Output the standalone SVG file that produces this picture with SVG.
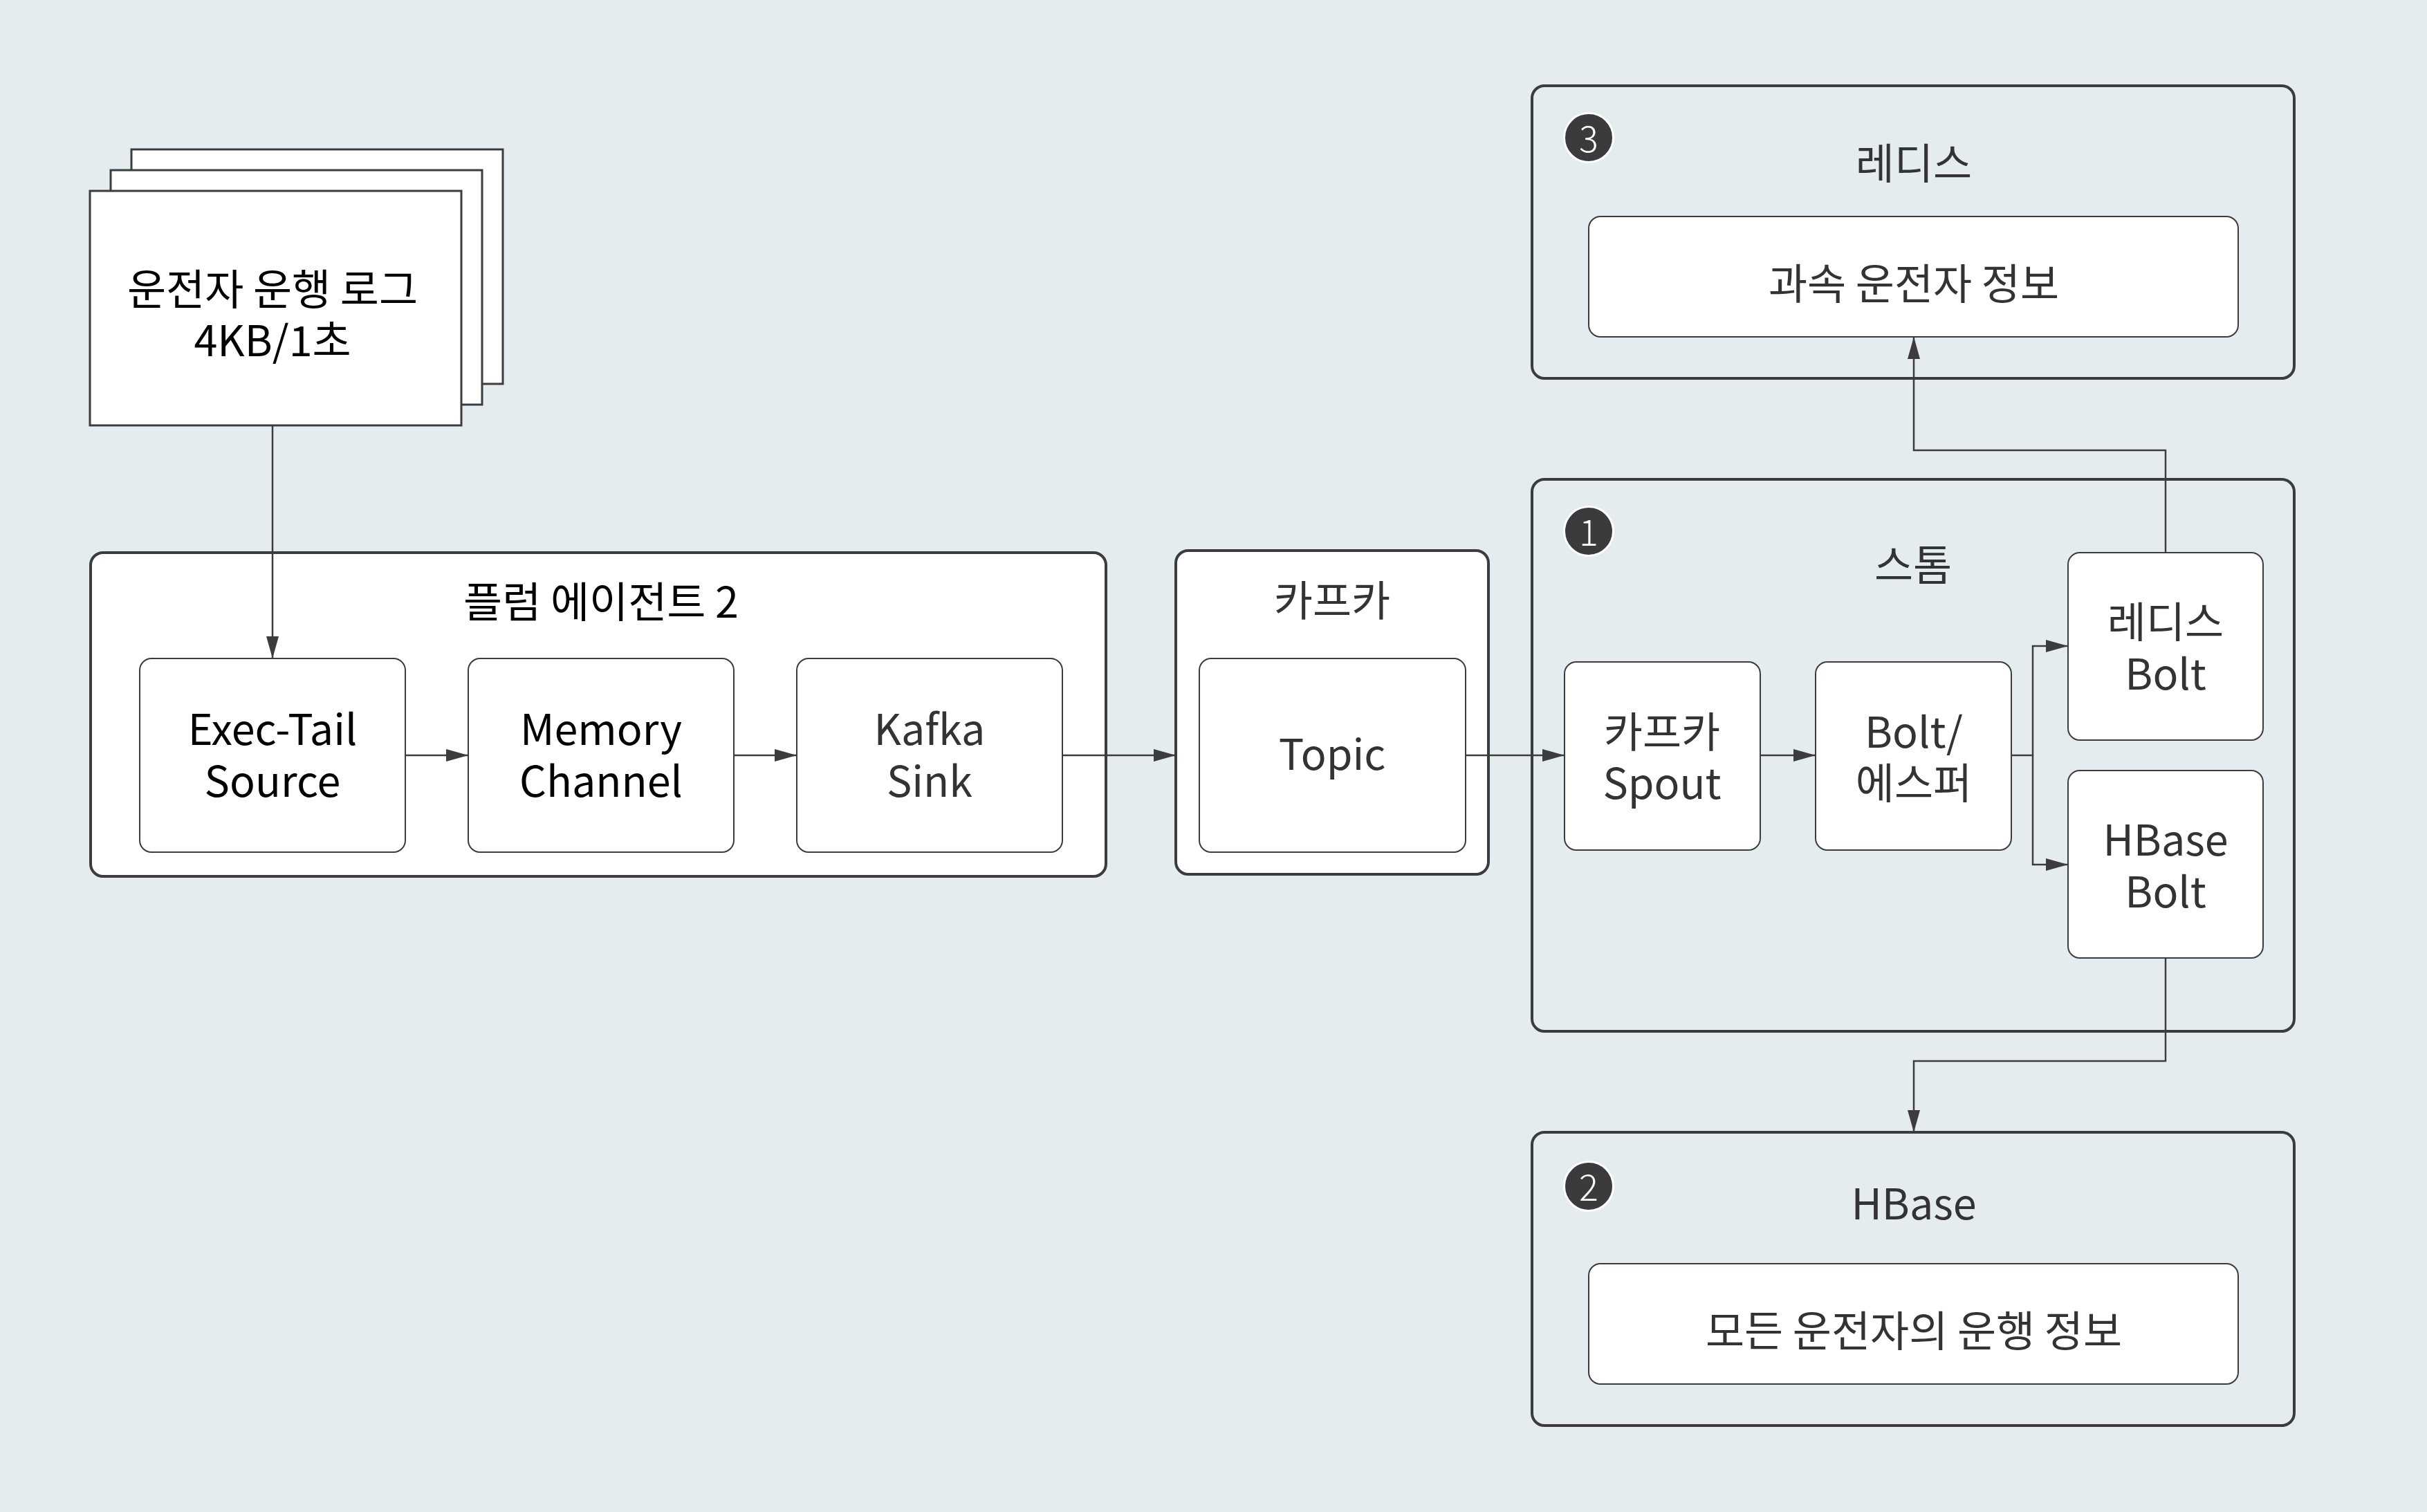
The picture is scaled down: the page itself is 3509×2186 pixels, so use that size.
<svg xmlns="http://www.w3.org/2000/svg" width="3509" height="2186" viewBox="0 0 3509 2186">
<defs>
<style>
text{font-family:"Noto Sans CJK KR","Noto Sans",sans-serif;font-size:61px;font-weight:400;text-anchor:middle;dominant-baseline:central}
.k{fill:#000}
.g{fill:#333335}
.sheet{fill:#fff;stroke:#3c3c3e;stroke-width:3}
.cw{fill:#fff;stroke:#3c3c3e;stroke-width:4}
.cb{fill:#e4ecf0;stroke:#3c3c3e;stroke-width:4}
.box{fill:#fff;stroke:#3c3c3e;stroke-width:2}
.badge{fill:#3b3b3d;stroke:#fff;stroke-width:3}
.num{fill:#fff;font-size:52px;font-weight:300}
.edge{fill:none;stroke:#3c3c3e;stroke-width:2.5}
</style>
<marker id="ah" markerUnits="userSpaceOnUse" markerWidth="32" markerHeight="18" refX="32" refY="9" orient="auto">
<path d="M0,0 L32,9 L0,18 z" fill="#3c3c3e"/>
</marker>
</defs>
<rect x="0" y="0" width="3509" height="2186" fill="#e4ecf0"/>

<g id="log-stack">
<rect class="sheet" x="190" y="216" width="537" height="339"/>
<rect class="sheet" x="160" y="246" width="537" height="339"/>
<rect class="sheet" x="130" y="276" width="537" height="339"/>
<text class="k"><tspan x="394" y="414">운전자 운행 로그</tspan><tspan x="394" y="488">4KB/1초</tspan></text>
</g>

<g id="flume-agent">
<rect class="cw" x="131" y="799" width="1468" height="468" rx="18"/>
<text class="k" x="869" y="866">플럼 에이전트 2</text>
</g>
<g id="exec-tail-source">
<rect class="box" x="202" y="952" width="384" height="280" rx="17"/>
<text class="k"><tspan x="394" y="1050">Exec-Tail</tspan><tspan x="394" y="1125">Source</tspan></text>
</g>
<g id="memory-channel">
<rect class="box" x="677" y="952" width="384" height="280" rx="17"/>
<text class="k"><tspan x="869" y="1050">Memory</tspan><tspan x="869" y="1125">Channel</tspan></text>
</g>
<g id="kafka-sink">
<rect class="box" x="1152" y="952" width="384" height="280" rx="17"/>
<text class="g"><tspan x="1344" y="1050">Kafka</tspan><tspan x="1344" y="1125">Sink</tspan></text>
</g>

<g id="kafka">
<rect class="cw" x="1700" y="796" width="452" height="468" rx="18"/>
<text class="g" x="1926" y="864">카프카</text>
</g>
<g id="topic">
<rect class="box" x="1734" y="952" width="385" height="280" rx="17"/>
<text class="g" x="1926" y="1086">Topic</text>
</g>

<g id="storm">
<rect class="cb" x="2215" y="693" width="1102" height="798" rx="18"/>
<circle class="badge" cx="2297" cy="768" r="35.5"/>
<text class="num" x="2297" y="766">1</text>
<text class="g" x="2766" y="813">스톰</text>
</g>
<g id="kafka-spout">
<rect class="box" x="2262" y="957" width="283" height="272" rx="17"/>
<text class="g"><tspan x="2403" y="1054">카프카</tspan><tspan x="2403" y="1128">Spout</tspan></text>
</g>
<g id="bolt-esper">
<rect class="box" x="2625" y="957" width="283" height="272" rx="17"/>
<text class="g"><tspan x="2767" y="1054">Bolt/</tspan><tspan x="2767" y="1128">에스퍼</tspan></text>
</g>
<g id="redis-bolt">
<rect class="box" x="2990" y="799" width="282" height="271" rx="17"/>
<text class="g"><tspan x="3131" y="895">레디스</tspan><tspan x="3131" y="970">Bolt</tspan></text>
</g>
<g id="hbase-bolt">
<rect class="box" x="2990" y="1114" width="282" height="271" rx="17"/>
<text class="g"><tspan x="3131" y="1210">HBase</tspan><tspan x="3131" y="1285">Bolt</tspan></text>
</g>

<g id="redis">
<rect class="cb" x="2215" y="124" width="1102" height="423" rx="18"/>
<circle class="badge" cx="2297" cy="199" r="35.5"/>
<text class="num" x="2297" y="197">3</text>
<text class="g" x="2767" y="232">레디스</text>
</g>
<g id="speeding-info">
<rect class="box" x="2297" y="313" width="939" height="174" rx="17"/>
<text class="g" x="2767" y="406">과속 운전자 정보</text>
</g>

<g id="hbase">
<rect class="cb" x="2215" y="1637" width="1102" height="424" rx="18"/>
<circle class="badge" cx="2297" cy="1715" r="35.5"/>
<text class="num" x="2297" y="1713">2</text>
<text class="g" x="2767" y="1736">HBase</text>
</g>
<g id="all-driving-info">
<rect class="box" x="2297" y="1827" width="939" height="174" rx="17"/>
<text class="g" x="2767" y="1920">모든 운전자의 운행 정보</text>
</g>

<g id="connectors">
<path class="edge" marker-end="url(#ah)" d="M394 615 V952"/>
<path class="edge" marker-end="url(#ah)" d="M586 1092 H677"/>
<path class="edge" marker-end="url(#ah)" d="M1061 1092 H1152"/>
<path class="edge" marker-end="url(#ah)" d="M1536 1092 H1700"/>
<path class="edge" marker-end="url(#ah)" d="M2119 1092 H2262"/>
<path class="edge" marker-end="url(#ah)" d="M2545 1092 H2625"/>
<path class="edge" marker-end="url(#ah)" d="M2908 1092 H2939 V934 H2990"/>
<path class="edge" marker-end="url(#ah)" d="M2939 1092 V1250 H2990"/>
<path class="edge" marker-end="url(#ah)" d="M3131 799 V651 H2767 V487"/>
<path class="edge" marker-end="url(#ah)" d="M3131 1385 V1534 H2767 V1637"/>
</g>
</svg>
